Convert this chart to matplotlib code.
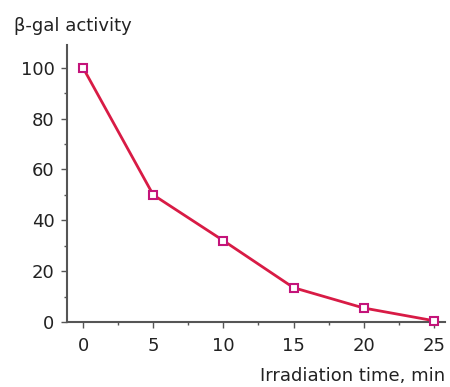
import matplotlib
matplotlib.use('Agg')
from matplotlib import pyplot as plt
from matplotlib.ticker import MultipleLocator

# data
time_min = [0, 5, 10, 15, 20, 25]
activity = [100, 50, 32, 13.5, 5.5, 0.5]

plt.rcParams['font.family'] = ['DejaVu Sans']

fig = plt.figure(figsize=(4.5, 3.87), dpi=100)
ax = fig.add_axes([0.149, 0.168, 0.840, 0.716])

ax.plot(time_min, activity, color='#d81b45', lw=2, marker='s', ms=6,
        mfc='white', mec='#c4147a', mew=1.5, clip_on=False, zorder=3)

ax.set_xlim(-1.14, 25.8)
ax.set_ylim(0, 109)
ax.xaxis.set_major_locator(MultipleLocator(5))
ax.xaxis.set_minor_locator(MultipleLocator(2.5))
ax.yaxis.set_major_locator(MultipleLocator(20))
ax.yaxis.set_minor_locator(MultipleLocator(10))

for s in ['top', 'right']:
    ax.spines[s].set_visible(False)
for s in ['left', 'bottom']:
    ax.spines[s].set_color('#555555')
    ax.spines[s].set_linewidth(1.5)

ax.tick_params(which='major', direction='out', length=4, width=1, color='#555555',
               labelsize=13, labelcolor='#222222')
ax.tick_params(axis='x', which='major', pad=7)
ax.tick_params(axis='y', which='major', pad=5)
ax.tick_params(which='minor', direction='out', length=2.5, width=1, color='#555555')

fig.text(0.031, 0.933, 'β-gal activity', fontsize=13, color='#222222', va='center', ha='left')
fig.text(0.989, 0.028, 'Irradiation time, min', fontsize=13, color='#222222', va='center', ha='right')

fig.savefig('out.png', dpi=100)
